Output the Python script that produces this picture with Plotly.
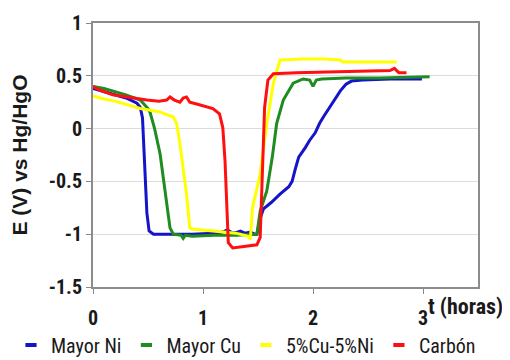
import plotly.graph_objects as go

# ---- data ----
names = ["Mayor Ni", "Mayor Cu", "5%Cu-5%Ni", "Carbón"]
colors = ["#1414C8", "#1E8C1E", "#FFFF00", "#FF1010"]

t_ni = [0, 0.1, 0.2, 0.3, 0.4, 0.43, 0.45, 0.47, 0.49, 0.51, 0.55, 0.7, 0.9, 1.1, 1.18, 1.22, 1.27, 1.31, 1.34, 1.38, 1.43, 1.47,
        1.49, 1.52, 1.55, 1.62, 1.70, 1.78, 1.81, 1.84, 1.87, 1.93, 1.97, 2.02, 2.06, 2.10, 2.15, 2.20, 2.25, 2.30, 2.35, 2.45,
        2.7, 2.99]
v_ni = [0.38, 0.35, 0.32, 0.29, 0.24, 0.20, 0.10, -0.30, -0.80, -0.97, -1.00, -1.00, -1.00, -0.99, -0.98, -0.96, -0.99, -0.98,
        -0.97, -0.99, -0.98, -1.00,
        -1.00, -0.85, -0.76, -0.70, -0.62, -0.55, -0.50, -0.38, -0.27, -0.18, -0.11, -0.04, 0.05, 0.12, 0.20, 0.28, 0.36, 0.42,
        0.45, 0.46, 0.47, 0.47]

t_cu = [0, 0.1, 0.2, 0.3, 0.43, 0.50, 0.52, 0.56, 0.61, 0.67, 0.70, 0.73, 0.80, 0.82, 0.84, 0.9, 1.1, 1.3, 1.49, 1.52,
        1.58, 1.63, 1.67, 1.73, 1.82, 1.91, 1.97, 2.00, 2.03, 2.08, 2.3, 2.6, 2.9, 3.06]
v_cu = [0.40, 0.38, 0.35, 0.32, 0.27, 0.19, 0.15, 0.00, -0.24, -0.68, -0.94, -1.00, -1.01, -1.04, -1.01, -1.02, -1.01, -1.01,
        -1.00, -0.78, -0.59, -0.27, 0.05, 0.27, 0.43, 0.47, 0.46, 0.40, 0.46, 0.47, 0.48, 0.48, 0.49, 0.49]

t_mix = [0, 0.1, 0.2, 0.3, 0.43, 0.6, 0.73, 0.76, 0.79, 0.85, 0.88, 0.90, 1.1, 1.3, 1.41, 1.43, 1.45, 1.52, 1.58, 1.64,
         1.70, 1.9, 2.1, 2.25, 2.27, 2.5, 2.76]
v_mix = [0.31, 0.28, 0.26, 0.23, 0.19, 0.16, 0.11, 0.05, -0.14, -0.62, -0.94, -0.95, -0.97, -0.99, -1.02, -1.05, -0.75,
         -0.43, 0.05, 0.43, 0.65, 0.66, 0.66, 0.65, 0.63, 0.63, 0.63]

t_c = [0, 0.05, 0.18, 0.35, 0.49, 0.60, 0.67, 0.70, 0.74, 0.79, 0.82, 0.85, 0.88, 0.95, 1.09, 1.15, 1.18, 1.20, 1.22, 1.23,
       1.27, 1.35, 1.49, 1.52, 1.54, 1.56, 1.59, 1.64, 1.85, 2.2, 2.45, 2.7, 2.74, 2.78, 2.85]
v_c = [0.40, 0.37, 0.32, 0.29, 0.27, 0.26, 0.27, 0.30, 0.27, 0.25, 0.29, 0.30, 0.25, 0.23, 0.19, 0.14, 0.01, -0.30, -0.78,
       -1.08, -1.13, -1.12, -1.10, -1.03, -0.43, 0.20, 0.46, 0.52, 0.53, 0.54, 0.55, 0.55, 0.57, 0.53, 0.53]

x_ticks = [0, 1, 2, 3]
y_ticks = [-1.5, -1, -0.5, 0, 0.5, 1]
y_tick_text = ["-1.5", "-1", "-0.5", "0", "0.5", "1"]

series = [(t_ni, v_ni), (t_cu, v_cu), (t_mix, v_mix), (t_c, v_c)]

NARROW = "Roboto Condensed, Open Sans Condensed, Liberation Sans, sans-serif"
WIDE = "Liberation Sans, Arial, sans-serif"
INK = "#1a1a1a"

fig = go.Figure()
for (tx, vy), nm, col in zip(series, names, colors):
    fig.add_trace(go.Scatter(x=tx, y=vy, mode="lines", name=nm, showlegend=False,
                             line=dict(color=col, width=3), hoverinfo="skip"))
# legend entries (short dash symbols)
for nm, col in zip(names, colors):
    fig.add_trace(go.Scatter(x=[None], y=[None], mode="markers", name=nm, showlegend=True,
                             marker=dict(symbol="line-ew", size=8, color=col,
                                         line=dict(color=col, width=4))))

fig.update_layout(
    width=510, height=360,
    margin=dict(l=85, r=40, t=15, b=81, autoexpand=False),
    paper_bgcolor="white", plot_bgcolor="white",
    font=dict(family=NARROW, size=19, color=INK),
    showlegend=True,
    legend=dict(orientation="h", x=-0.213, xanchor="left", y=-0.22, yanchor="middle",
                font=dict(family=NARROW, size=20, color=INK),
                itemwidth=30, bgcolor="rgba(0,0,0,0)", tracegroupgap=0),
    xaxis=dict(range=[0, 3.5], tickvals=x_ticks, ticks="outside", ticklen=5, tickcolor="#888888",
               showline=True, linecolor="#8c8c8c", linewidth=2, mirror=True, showgrid=False,
               zeroline=False, ticklabelstandoff=7, automargin=False,
               tickfont=dict(family=NARROW, size=20, color=INK, weight="bold")),
    yaxis=dict(range=[-1.5, 1], tickvals=y_ticks, ticktext=y_tick_text, ticks="outside", ticklen=5,
               tickcolor="#888888", showline=True, linecolor="#8c8c8c", linewidth=2, mirror=True,
               showgrid=True, gridcolor="#dcdcdc", gridwidth=1, zeroline=False, automargin=False,
               tickfont=dict(family=NARROW, size=20, color=INK, weight="bold"),
               title=dict(text="E (V) vs Hg/HgO", standoff=22,
                          font=dict(family=WIDE, size=21, color=INK, weight="bold"))),
    annotations=[dict(text="t (horas)", xref="paper", yref="paper", x=1.07, y=-0.075,
                      xanchor="right", yanchor="middle", showarrow=False,
                      font=dict(family=NARROW, size=22, color=INK, weight="bold"))],
)

fig.write_html("out.html")
